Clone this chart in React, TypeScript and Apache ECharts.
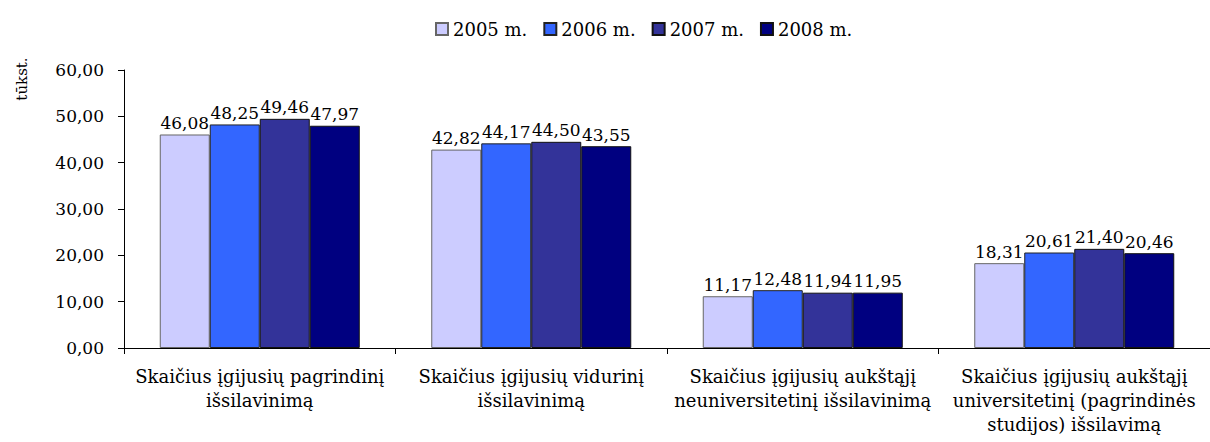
import React, { useEffect, useRef } from "react";
import * as echarts from "echarts";

const categories = [
  "Skaičius įgijusių pagrindinį\nišsilavinimą",
  "Skaičius įgijusių vidurinį\nišsilavinimą",
  "Skaičius įgijusių aukštąjį\nneuniversitetinį išsilavinimą",
  "Skaičius įgijusių aukštąjį\nuniversitetinį (pagrindinės\nstudijos) išsilavimą",
];
const seriesNames = ["2005 m.", "2006 m.", "2007 m.", "2008 m."];
const values2005 = [46.08, 42.82, 11.17, 18.31];
const values2006 = [48.25, 44.17, 12.48, 20.61];
const values2007 = [49.46, 44.5, 11.94, 21.4];
const values2008 = [47.97, 43.55, 11.95, 20.46];
const allValues = [values2005, values2006, values2007, values2008];
const colors = ["#CCCCFF", "#3366FF", "#333399", "#000080"];
const borderColors = ["#666666", "#222222", "#111111", "#111111"];
const yAxisTitle = "tūkst.";

const FONT = "DejaVu Serif";
const fmt = (v: number) => v.toFixed(2).replace(".", ",");

export default function App() {
  const ref = useRef<HTMLDivElement>(null);
  useEffect(() => {
    if (!ref.current) return;
    const chart = echarts.init(ref.current, undefined, { renderer: "svg" });
    chart.setOption({
      animation: false,
      backgroundColor: "#ffffff",
      textStyle: { fontFamily: FONT },
      legend: {
        left: 430,
        top: 15,
        itemWidth: 12,
        itemHeight: 12,
        itemGap: 16,
        icon: "rect",
        textStyle: { fontFamily: FONT, fontSize: 18, color: "#000" },
        data: seriesNames,
      },
      grid: { left: 124, top: 70, width: 1100, height: 278 },
      xAxis: {
        type: "category",
        data: categories,
        axisLine: { lineStyle: { color: "#000", width: 1 } },
        axisTick: { show: true, length: 6, lineStyle: { color: "#000" } },
        axisLabel: {
          interval: 0,
          margin: 16,
          color: "#000",
          fontFamily: FONT,
          fontSize: 18,
          lineHeight: 24,
        },
      },
      yAxis: {
        type: "value",
        min: 0,
        max: 60,
        interval: 10,
        axisLine: { show: true, lineStyle: { color: "#000", width: 1 } },
        axisTick: { show: true, length: 6, lineStyle: { color: "#000" } },
        splitLine: { show: false },
        axisLabel: {
          margin: 20,
          color: "#000",
          fontFamily: FONT,
          fontSize: 17,
          formatter: (v: number) => fmt(v),
        },
      },
      graphic: [
        {
          type: "text",
          x: 22,
          y: 79,
          rotation: Math.PI / 2,
          style: {
            text: yAxisTitle,
            fontFamily: FONT,
            fontSize: 15,
            fill: "#000",
            textAlign: "center",
            textVerticalAlign: "middle",
          },
        },
      ],
      series: seriesNames.map((name, i) => ({
        name,
        type: "bar",
        data: allValues[i],
        barWidth: 50,
        barGap: "0%",
        itemStyle: {
          color: colors[i],
          borderColor: borderColors[i],
          borderWidth: 1,
        },
        label: {
          show: true,
          position: "top",
          distance: 3,
          color: "#000",
          fontFamily: FONT,
          fontSize: 17,
          formatter: (p: any) => fmt(p.value),
        },
      })),
    });
    return () => chart.dispose();
  }, []);
  return (
    <div
      ref={ref}
      style={{ position: "absolute", left: 0, top: 0, width: 1210, height: 442, background: "#fff" }}
    />
  );
}
